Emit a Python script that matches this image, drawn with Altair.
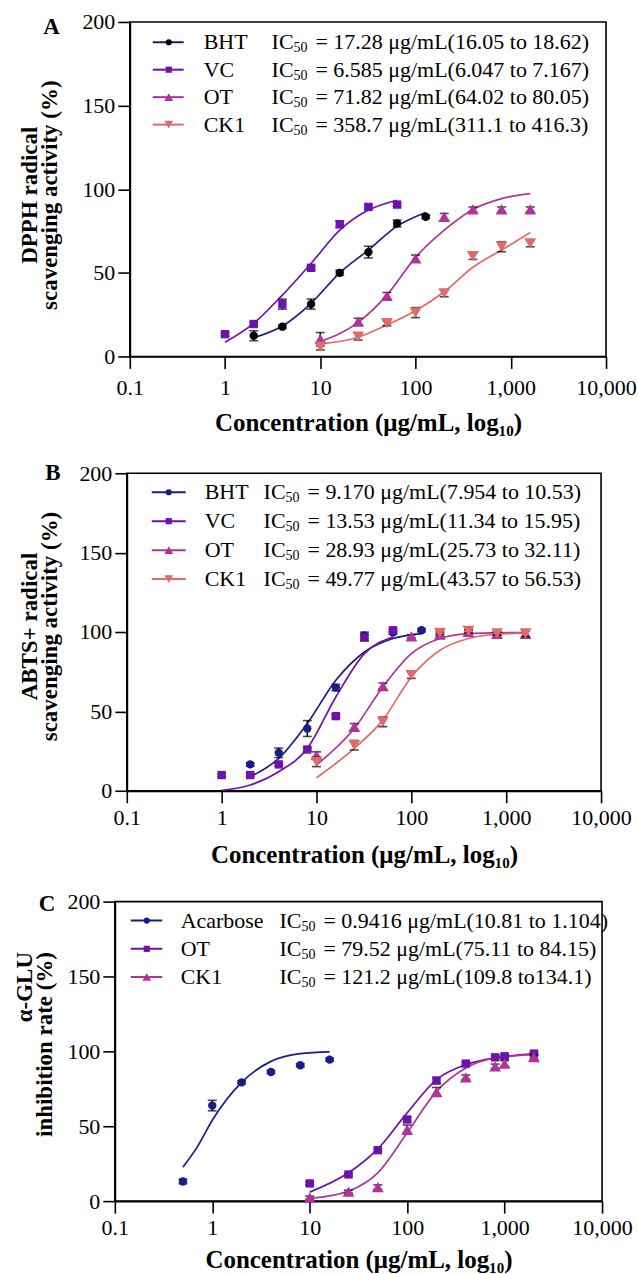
import altair as alt
import pandas as pd

FONT = "Liberation Serif"
NAVY = "#1b1b8c"
PURPLE = "#6d12ad"
MAGENTA = "#b2329c"
SALMON = "#e06a68"
BLACK = "#000000"

X_TICKS = [0.1, 1, 10, 100, 1000, 10000]
Y_TICKS = [0, 50, 100, 150, 200]
X_TITLE = "Concentration (μg/mL, log₁₀)"

# ---------------- Panel A : DPPH ----------------
A_names = ["BHT", "VC", "OT", "CK1"]
A_ic = ["= 17.28 μg/mL(16.05 to 18.62)", "= 6.585 μg/mL(6.047 to 7.167)",
        "= 71.82 μg/mL(64.02 to 80.05)", "= 358.7 μg/mL(311.1 to 416.3)"]
A_BHT_conc = [2, 4, 8, 16, 32, 64, 128]
A_BHT_val = [12.4, 17.8, 31.3, 50.0, 62.4, 79.5, 83.5]
A_BHT_err = [3, 1, 3, 1.5, 3.5, 2, 1]
A_BHT_fit = [11.2, 18.2, 31.8, 50.0, 63.6, 77.9, 86.1]
A_VC_conc = [1, 2, 4, 8, 16, 32, 64]
A_VC_val = [13.3, 19.4, 31.3, 53.0, 79.1, 89.4, 90.8]
A_VC_err = [1, 1, 3, 1, 2, 1, 1]
A_VC_fit = [8.5, 19.8, 36.7, 55.6, 75.5, 87.5, 93.4]
A_OT_conc = [10, 25, 50, 100, 200, 400, 800, 1600]
A_OT_val = [10.3, 20.8, 36.2, 58.6, 83.5, 87.9, 87.9, 87.9]
A_OT_err = [4, 2, 2, 2, 2, 1.5, 1.5, 1.5]
A_OT_fit = [8.8, 20.4, 36.7, 59.2, 75.5, 87.9, 94.4, 97.4]
A_CK1_conc = [10, 25, 50, 100, 200, 400, 800, 1600]
A_CK1_val = [5.9, 11.8, 19.9, 26.2, 37.7, 60.0, 65.6, 67.6]
A_CK1_err = [2, 2, 1.5, 3, 2, 2, 3, 2]
A_CK1_fit = [7.5, 11.5, 18.8, 27.3, 38.7, 53.3, 63.6, 74.1]

# ---------------- Panel B : ABTS+ ----------------
B_names = ["BHT", "VC", "OT", "CK1"]
B_ic = ["= 9.170 μg/mL(7.954 to 10.53)", "= 13.53 μg/mL(11.34 to 15.95)",
        "= 28.93 μg/mL(25.73 to 32.11)", "= 49.77 μg/mL(43.57 to 56.53)"]
B_BHT_conc = [2, 4, 8, 16, 32, 64, 128]
B_BHT_val = [16.6, 23.9, 39.2, 65.0, 97.9, 99.6, 101.1]
B_BHT_err = [1, 3, 5, 2, 2, 1, 1]
B_BHT_fit = [8.8, 20.4, 42.4, 69.6, 87.4, 95.9, 99.0]
B_VC_conc = [1, 2, 4, 8, 16, 32, 64]
B_VC_val = [9.9, 9.9, 16.6, 26.0, 47.0, 96.5, 101.1]
B_VC_err = [1, 1, 1, 1, 1, 2, 1]
B_VC_fit = [0.2, 3.6, 12.0, 26.7, 59.1, 86.4, 96.9]
B_OT_conc = [10, 25, 50, 100, 200, 400, 800, 1600]
B_OT_val = [22.5, 40.3, 65.9, 97.3, 98.4, 100.0, 98.8, 98.8]
B_OT_err = [2, 2, 2, 1, 1, 1, 1, 2]
B_OT_fit = [16.2, 39.2, 65.4, 86.4, 95.9, 99.0, 99.5, 99.7]
B_CK1_conc = [10, 25, 50, 100, 200, 400, 800, 1600]
B_CK1_val = [18.2, 28.7, 43.4, 72.8, 99.4, 100.7, 99.1, 99.1]
B_CK1_err = [3, 3, 3, 2, 1, 1, 1, 2]
B_CK1_fit = [8.2, 26.7, 44.5, 71.7, 88.5, 95.9, 98.6, 99.3]

# ---------------- Panel C : alpha-GLU ----------------
C_names = ["Acarbose", "OT", "CK1"]
C_ic = ["= 0.9416 μg/mL(10.81 to 1.104)", "= 79.52 μg/mL(75.11 to 84.15)",
        "= 121.2 μg/mL(109.8 to134.1)"]
C_ACA_conc = [0.5, 1, 2, 4, 8, 16]
C_ACA_val = [13.1, 63.8, 79.3, 86.2, 90.7, 94.5]
C_ACA_err = [1.5, 3.5, 1, 1, 1, 1]
C_ACA_fit_conc = [0.5, 0.71, 1, 2, 4, 8, 16]
C_ACA_fit = [22.7, 36.7, 54.0, 79.3, 93.3, 98.5, 99.6]
C_OT_conc = [10, 25, 50, 100, 200, 400, 800, 1000, 2000]
C_OT_val = [11.8, 17.8, 34.0, 54.5, 80.5, 91.8, 96.0, 96.7, 98.5]
C_OT_err = [1, 1, 1, 1.5, 2, 1, 1, 1, 1]
C_OT_fit = [6.0, 18.9, 34.9, 58.9, 81.1, 91.1, 95.6, 96.5, 98.5]
C_CK1_conc = [10, 25, 50, 100, 200, 400, 800, 1000, 2000]
C_CK1_val = [2.3, 6.3, 9.3, 47.8, 72.9, 82.7, 90.0, 91.8, 96.2]
C_CK1_err = [1, 1, 1.5, 3, 3, 1.5, 1.5, 2, 1.5]
C_CK1_fit_conc = [10, 25, 50, 100, 200, 400, 800, 2000]
C_CK1_fit = [1.8, 6.7, 18.9, 45.6, 73.3, 88.9, 95.6, 97.8]

ONE = pd.DataFrame({"a": [0]})


def series(name, conc, val, err, fconc, fval, lcolor, pcolor, shape, size):
    return dict(name=name, conc=conc, val=val, err=err, fconc=fconc, fval=fval,
                lcolor=lcolor, pcolor=pcolor, shape=shape, size=size)


def panel(ser, ic_texts, W, H, P, T, Bext, letter, letter_xy, ytitle, ytx, yty,
          yalign, xty, xpad, leg):
    xs = alt.Scale(type="log", domain=[0.1, 10000], nice=False)
    ys = alt.Scale(domain=[0, 200], nice=False)
    xaxis = alt.Axis(values=X_TICKS, format=",", title=X_TITLE, grid=False,
                     tickSize=12, tickWidth=1.6, domainWidth=1.8, domainColor="black",
                     tickColor="black", labelFont=FONT, labelFontSize=22,
                     labelColor="black", labelPadding=xpad, labelFlush=False,
                     labelOverlap=False,
                     titleFont=FONT, titleFontSize=25, titleFontWeight="bold",
                     titleColor="black", titleY=xty, titleBaseline="middle")
    yaxis = alt.Axis(values=Y_TICKS, title=ytitle, grid=False, tickSize=12,
                     tickWidth=1.6, domainWidth=1.8, domainColor="black",
                     tickColor="black", labelFont=FONT, labelFontSize=22,
                     labelColor="black", labelPadding=3, labelOverlap=False,
                     titleFont=FONT,
                     titleFontSize=23, titleFontWeight="bold", titleColor="black",
                     titleLineHeight=20, titleX=ytx, titleY=yty, titleAngle=270,
                     titleAlign=yalign, titleBaseline="middle")

    def X(f):
        return alt.X(f + ":Q", scale=xs, axis=xaxis)

    def Y(f):
        return alt.Y(f + ":Q", scale=ys, axis=yaxis)

    layers = [
        alt.Chart(ONE).mark_rule(opacity=0, strokeWidth=0.01).encode(
            x=alt.value(-P), y=alt.value(-T), y2=alt.value(H + Bext)),
        alt.Chart(ONE).mark_rule(opacity=0, strokeWidth=0.01).encode(
            x=alt.value(-P), x2=alt.value(W), y=alt.value(-T)),
    ]
    for s in ser:
        fdf = pd.DataFrame({"c": s["fconc"], "v": s["fval"]})
        layers.append(alt.Chart(fdf).mark_line(
            interpolate="monotone", strokeWidth=1.7, color=s["lcolor"]).encode(
            x=X("c"), y=Y("v")))
    for s in ser:
        pdf = pd.DataFrame({"c": s["conc"], "v": s["val"]})
        pdf["lo"] = [v - e for v, e in zip(s["val"], s["err"])]
        pdf["hi"] = [v + e for v, e in zip(s["val"], s["err"])]
        layers.append(alt.Chart(pdf).mark_rule(color="black", strokeWidth=1.5).encode(
            x=X("c"), y=Y("lo"), y2="hi:Q"))
        for f in ["lo", "hi"]:
            layers.append(alt.Chart(pdf).mark_tick(
                color="black", orient="horizontal", size=9, thickness=1.6).encode(
                x=X("c"), y=Y(f)))
        layers.append(alt.Chart(pdf).mark_point(
            filled=True, opacity=1, strokeWidth=0, shape=s["shape"], size=s["size"],
            color=s["pcolor"]).encode(x=X("c"), y=Y("v")))
    # legend
    lx0, lx1, lxm, nx, icx, ly0, dy = leg
    for i, s in enumerate(ser):
        yy = ly0 + i * dy
        layers.append(alt.Chart(ONE).mark_rule(color=s["lcolor"], strokeWidth=2).encode(
            x=alt.value(lx0), x2=alt.value(lx1), y=alt.value(yy)))
        layers.append(alt.Chart(ONE).mark_point(
            filled=True, opacity=1, strokeWidth=0, shape=s["shape"],
            size=s["size"] * 0.55, color=s["pcolor"]).encode(
            x=alt.value(lxm), y=alt.value(yy)))
        layers.append(alt.Chart(ONE).mark_text(
            text=s["name"], font=FONT, fontSize=22, align="left", baseline="middle",
            color="black").encode(x=alt.value(nx), y=alt.value(yy)))
        layers.append(alt.Chart(ONE).mark_text(
            text="IC", font=FONT, fontSize=22, align="left", baseline="middle",
            color="black").encode(x=alt.value(icx), y=alt.value(yy)))
        layers.append(alt.Chart(ONE).mark_text(
            text="50", font=FONT, fontSize=14, align="left", baseline="middle",
            color="black").encode(x=alt.value(icx + 22), y=alt.value(yy + 6)))
        layers.append(alt.Chart(ONE).mark_text(
            text=ic_texts[i], font=FONT, fontSize=22, align="left", baseline="middle",
            color="black").encode(x=alt.value(icx + 44), y=alt.value(yy)))
    layers.append(alt.Chart(ONE).mark_text(
        text=letter, font=FONT, fontSize=23, fontWeight="bold", align="center",
        baseline="middle", color="black").encode(
        x=alt.value(letter_xy[0]), y=alt.value(letter_xy[1])))
    lay = alt.layer(*layers).properties(
        width=W, height=H,
        view=alt.ViewBackground(stroke="black", strokeWidth=1.6, fill="white"))
    spacer = alt.Chart(ONE).mark_rule(opacity=0, strokeWidth=0.01).encode(
        x=alt.value(0), y=alt.value(0), y2=alt.value(1)).properties(
        width=1, height=1,
        view=alt.ViewBackground(stroke="transparent", strokeWidth=0))
    return alt.HConcatChart(hconcat=[spacer, lay], spacing=0, bounds="full")


serA = [
    series("BHT", A_BHT_conc, A_BHT_val, A_BHT_err, A_BHT_conc, A_BHT_fit, NAVY, BLACK, "circle", 70),
    series("VC", A_VC_conc, A_VC_val, A_VC_err, A_VC_conc, A_VC_fit, PURPLE, PURPLE, "square", 70),
    series("OT", A_OT_conc, A_OT_val, A_OT_err, A_OT_conc, A_OT_fit, MAGENTA, MAGENTA, "triangle-up", 140),
    series("CK1", A_CK1_conc, A_CK1_val, A_CK1_err, A_CK1_conc, A_CK1_fit, SALMON, SALMON, "triangle-down", 140),
]
serB = [
    series("BHT", B_BHT_conc, B_BHT_val, B_BHT_err, B_BHT_conc, B_BHT_fit, NAVY, NAVY, "circle", 70),
    series("VC", B_VC_conc, B_VC_val, B_VC_err, B_VC_conc, B_VC_fit, PURPLE, PURPLE, "square", 70),
    series("OT", B_OT_conc, B_OT_val, B_OT_err, B_OT_conc, B_OT_fit, MAGENTA, MAGENTA, "triangle-up", 140),
    series("CK1", B_CK1_conc, B_CK1_val, B_CK1_err, B_CK1_conc, B_CK1_fit, SALMON, SALMON, "triangle-down", 140),
]
serC = [
    series("Acarbose", C_ACA_conc, C_ACA_val, C_ACA_err, C_ACA_fit_conc, C_ACA_fit, NAVY, NAVY, "circle", 70),
    series("OT", C_OT_conc, C_OT_val, C_OT_err, C_OT_conc, C_OT_fit, PURPLE, PURPLE, "square", 70),
    series("CK1", C_CK1_conc, C_CK1_val, C_CK1_err, C_CK1_fit_conc, C_CK1_fit, MAGENTA, MAGENTA, "triangle-up", 140),
]

pA = panel(serA, A_ic, W=477, H=335, P=128, T=19.7, Bext=84.5, letter="A",
           letter_xy=(-78.5, 5), ytitle=["DPPH radical", "scavenging activity (%)"],
           ytx=-100.5, yty=173, yalign="center", xty=66.5, xpad=9,
           leg=(23, 54, 39, 74, 142, 20.3, 27.5))
pB = panel(serB, B_ic, W=475, H=318, P=125, T=30, Bext=83, letter="B",
           letter_xy=(-74, 0), ytitle=["ABTS+ radical", "scavenging activity (%)"],
           ytx=-97.5, yty=153, yalign="center", xty=64.3, xpad=5,
           leg=(25, 59, 42, 78, 137, 19, 29))
pC = panel(serC, C_ic, W=488, H=300, P=113, T=26, Bext=66, letter="C",
           letter_xy=(-68, 2.3), ytitle=["α-GLU", "inhibition rate (%)"],
           ytx=-90.5, yty=50, yalign="right", xty=58.3, xpad=4,
           leg=(16, 47.5, 32, 66, 165, 19, 28.3))

chart = alt.VConcatChart(vconcat=[pA, pB, pC], spacing=0, bounds="full",
                         padding=0, background="white")
chart = chart.configure(font=FONT)

chart.save("out.html", embed_options={"renderer": "svg", "actions": False})
